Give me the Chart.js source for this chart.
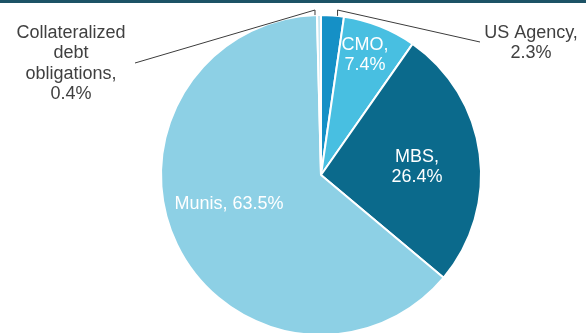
<!DOCTYPE html>
<html>
<head>
<meta charset="utf-8">
<script src="https://cdn.jsdelivr.net/npm/chart.js@4.4.1/dist/chart.umd.min.js"></script>
<style>
  html, body { margin: 0; padding: 0; background: #fff; overflow: hidden; width: 586px; height: 333px; }
  #barra { position: absolute; top: 0; left: 0; width: 586px; height: 3px; background: #1d5366; z-index: 2; }
  #caja { position: absolute; top: 0; left: 0; width: 586px; height: 350px; }
</style>
</head>
<body>
<div id="barra"></div>
<div id="caja"><canvas id="pastel" width="586" height="350"></canvas></div>
<script>
// ── Datos ─────────────────────────────────────
const categorias = ['US Agency', 'CMO', 'MBS', 'Munis', 'Collateralized debt obligations']
const valores    = [2.3, 7.4, 26.4, 63.5, 0.4]
const colores    = ['#1590c6', '#48bfe1', '#0b6a8c', '#8dd0e5', '#c6e7f2']

// etiquetas: líneas de texto por porción
const textos = [
  ['US Agency,', '2.3%'],
  ['CMO,', '7.4%'],
  ['MBS,', '26.4%'],
  ['Munis, 63.5%'],
  ['Collateralized', 'debt', 'obligations,', '0.4%']
]

// ── Plugin de etiquetas ───────────────────────
// dentro: desplazamiento relativo al centro en unidades de radio
// fuera: posición del texto, extremo de la línea guía y corrimiento del codo
const etiquetasDentro = { 1: [0.275, -0.75], 2: [0.6, -0.05], 3: [-0.575, 0.18] }
const etiquetasFuera  = {
  0: { texto: [531, 33], linea: [480, 42], corrimiento: 5 },
  4: { texto: [71, 33],  linea: [135, 63], corrimiento: -4 }
}

const pluginEtiquetas = {
  id: 'etiquetas',
  afterDraw(chart) {
    const ctx = chart.ctx
    const arcos = chart.getDatasetMeta(0).data
    const alto = 20.5
    ctx.save()
    ctx.font = "18px 'Liberation Sans', Arial, sans-serif"
    ctx.textAlign = 'center'
    ctx.textBaseline = 'middle'

    arcos.forEach((arco, i) => {
      const { x, y, outerRadius, startAngle, endAngle } = arco.getProps(['x', 'y', 'outerRadius', 'startAngle', 'endAngle'])
      const lineas = textos[i]

      if (etiquetasDentro[i]) {
        const [dx, dy] = etiquetasDentro[i]
        const cx = x + dx * outerRadius
        const cy = y + dy * outerRadius
        ctx.fillStyle = '#ffffff'
        lineas.forEach((t, k) => {
          ctx.fillText(t, cx, cy + (k - (lineas.length - 1) / 2) * alto)
        })
        return
      }

      const fuera = etiquetasFuera[i]
      if (!fuera) return
      const medio = (startAngle + endAngle) / 2
      const px = x + Math.cos(medio) * outerRadius + fuera.corrimiento
      const py = y - Math.sqrt(Math.max(outerRadius * outerRadius - (px - x) * (px - x), 0))
      const codoY = y - outerRadius - 5

      ctx.strokeStyle = '#3c3c3c'
      ctx.lineWidth = 1
      ctx.beginPath()
      ctx.moveTo(px, py)
      ctx.lineTo(px, codoY)
      ctx.lineTo(fuera.linea[0], fuera.linea[1])
      ctx.stroke()

      ctx.fillStyle = '#404040'
      lineas.forEach((t, k) => {
        ctx.fillText(t, fuera.texto[0], fuera.texto[1] + k * alto)
      })
    })
    ctx.restore()
  }
}

// ── Gráfico ───────────────────────────────────
new Chart(document.getElementById('pastel').getContext('2d'), {
  type: 'pie',
  data: {
    labels: categorias,
    datasets: [{
      data: valores,
      backgroundColor: colores,
      borderColor: '#ffffff',
      borderWidth: 2
    }]
  },
  options: {
    responsive: false,
    animation: false,
    layout: { padding: { top: 14, bottom: 14, left: 160, right: 104 } },
    plugins: {
      legend: { display: false },
      tooltip: { enabled: false }
    }
  },
  plugins: [pluginEtiquetas]
})
</script>
</body>
</html>
